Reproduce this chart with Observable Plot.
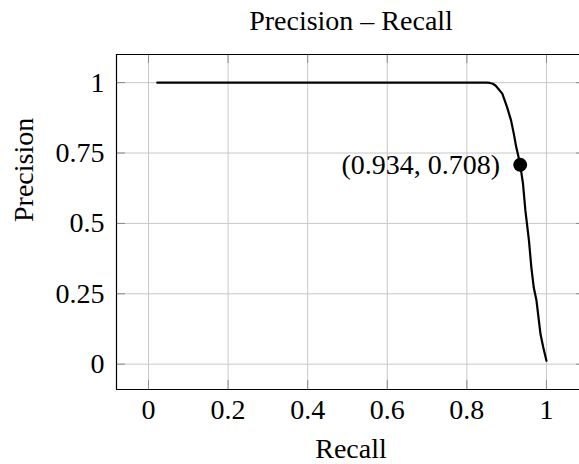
<!DOCTYPE html>
<html>
<head>
<meta charset="utf-8">
<script src="https://cdn.jsdelivr.net/npm/d3@7"></script>
<script src="https://cdn.jsdelivr.net/npm/@observablehq/plot@0.6"></script>
<style>
  html, body { margin: 0; padding: 0; overflow: hidden; background: #fff; }
</style>
</head>
<body>
<div id="chart"></div>
<script>
const recall    = [0.022, 0.85, 0.858, 0.865, 0.872, 0.889, 0.901, 0.911, 0.918, 0.924, 0.930, 0.934, 0.941, 0.947, 0.956, 0.962, 0.968, 0.975, 0.985, 0.992, 1.0];
const precision = [1.0,   1.0,  0.999, 0.996, 0.990, 0.961, 0.913, 0.866, 0.818, 0.771, 0.735, 0.708, 0.641, 0.546, 0.439, 0.344, 0.273, 0.225, 0.107, 0.059, 0.012];

const markerRecall = [0.934];
const markerPrecision = [0.708];
const markerLabel = ["(0.934, 0.708)"];

const xTicks = [0, 0.2, 0.4, 0.6, 0.8, 1];
const yTicks = [0, 0.25, 0.5, 0.75, 1];

const titleText = ["Precision \u2013 Recall"];
const xLabel = ["Recall"];
const yLabel = ["Precision"];

const xDomain = [-0.0804, 1.083];
const yDomain = [-0.09, 1.1];

const curve = recall.map((r, i) => ({recall: r, precision: precision[i]}));
const marker = markerRecall.map((r, i) => ({recall: r, precision: markerPrecision[i], label: markerLabel[i]}));

const W = 579, H = 464;
const mL = 116, mR = 0, mT = 54, mB = 75;
const plotW = W - mL - mR, plotH = H - mT - mB;
const tickLen = 9;

const chart = Plot.plot({
  width: W,
  height: H,
  marginLeft: mL,
  marginRight: mR,
  marginTop: mT,
  marginBottom: mB,
  style: {fontFamily: "'Liberation Serif', serif", fontSize: "28px", color: "#000", background: "#fff"},
  x: {domain: xDomain},
  y: {domain: yDomain},
  marks: [
    Plot.gridX(xTicks, {stroke: "#c8c8c8", strokeOpacity: 1, strokeWidth: 1}),
    Plot.gridY(yTicks, {stroke: "#c8c8c8", strokeOpacity: 1, strokeWidth: 1}),
    Plot.ruleX(xTicks, {x: d => d, insetTop: plotH - tickLen, stroke: "#8a8a8a"}),
    Plot.ruleX(xTicks, {x: d => d, insetBottom: plotH - tickLen, stroke: "#8a8a8a"}),
    Plot.ruleY(yTicks, {y: d => d, insetRight: plotW - tickLen, stroke: "#8a8a8a"}),
    Plot.ruleY(yTicks, {y: d => d, insetLeft: plotW - 3, stroke: "#8a8a8a"}),
    Plot.ruleY([yDomain[0], yDomain[1]], {y: d => d, stroke: "#000", strokeWidth: 1.2}),
    Plot.ruleX([xDomain[0]], {x: d => d, stroke: "#000", strokeWidth: 1.2}),
    Plot.line(curve, {x: "recall", y: "precision", stroke: "#000", strokeWidth: 2.2, strokeLinejoin: "round"}),
    Plot.dot(marker, {x: "recall", y: "precision", r: 7, fill: "#000", stroke: "none"}),
    Plot.text(marker, {x: "recall", y: "precision", text: "label", textAnchor: "end", dx: -20, lineAnchor: "middle", fill: "#000"}),
    Plot.axisX(xTicks, {tickSize: 0, tickPadding: 10, tickFormat: d => String(d), label: null, fill: "#000"}),
    Plot.axisY(yTicks, {tickSize: 0, tickPadding: 12, tickFormat: d => String(d), label: null, fill: "#000"}),
    Plot.text(titleText, {frameAnchor: "top", dx: 3, dy: -44, lineAnchor: "top", fill: "#000"}),
    Plot.text(xLabel, {frameAnchor: "bottom", dx: 3, dy: 49, lineAnchor: "top", fill: "#000"}),
    Plot.text(yLabel, {frameAnchor: "left", dx: -103, rotate: -90, lineAnchor: "top", fill: "#000"})
  ]
});
document.getElementById("chart").appendChild(chart);
</script>
</body>
</html>
